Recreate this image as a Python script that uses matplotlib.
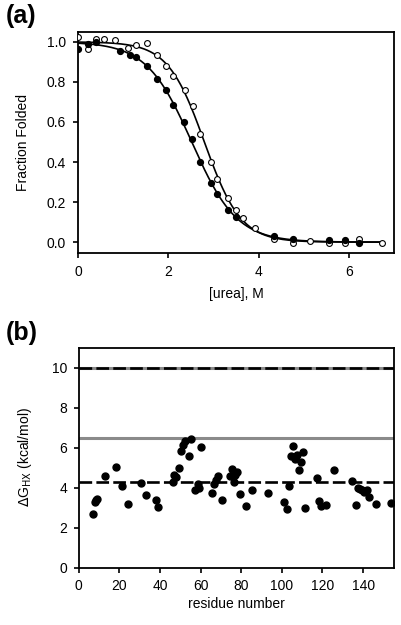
import matplotlib
matplotlib.use("Agg")
import matplotlib.pyplot as plt
import numpy as np

plt.rcParams['font.family'] = ['Liberation Sans', 'DejaVu Sans']
plt.rcParams['font.size'] = 10

# (a) urea denaturation, fraction folded
urea_filled = [0.0, 0.22, 0.40, 0.93, 1.16, 1.28, 1.53, 1.75, 1.95, 2.11, 2.35, 2.53,
               2.71, 2.94, 3.09, 3.32, 3.50, 4.35, 4.76, 5.55, 5.92, 6.22]
frac_filled = [0.965, 0.99, 1.0, 0.955, 0.937, 0.925, 0.879, 0.817, 0.759, 0.687, 0.601, 0.517,
               0.399, 0.295, 0.238, 0.158, 0.123, 0.032, 0.017, 0.010, 0.010, -0.003]
urea_open = [0.0, 0.22, 0.40, 0.57, 0.82, 1.10, 1.29, 1.53, 1.75, 1.95, 2.10, 2.36, 2.55,
             2.71, 2.95, 3.08, 3.32, 3.51, 3.65, 3.93, 4.35, 4.76, 5.14, 5.55, 5.92, 6.22, 6.73]
frac_open = [1.025, 0.963, 1.013, 1.013, 1.01, 0.97, 0.985, 0.992, 0.933, 0.879, 0.829, 0.759,
             0.679, 0.542, 0.399, 0.316, 0.221, 0.158, 0.12, 0.07, 0.015, -0.002, 0.007,
             -0.005, -0.005, 0.015, -0.002]

# (b) HX stability per residue
residue = [6.9, 7.9, 8.6, 9.2, 13.0, 18.1, 21.1, 24.2, 30.8, 33.3, 38.1, 39.2,
           46.2, 47.0, 48.0, 49.1, 50.1, 51.3, 52.4, 54.4, 55.5, 57.3, 58.5, 59.3, 60.3,
           65.4, 66.6, 67.7, 68.4, 70.4, 74.4, 75.5, 76.3, 77.0, 77.8, 79.4, 82.4, 85.4,
           93.4, 101.2, 102.5, 103.3, 104.3, 105.3, 106.3, 107.4, 108.4, 109.4, 110.4, 111.4,
           117.5, 118.3, 119.5, 121.8, 125.8, 134.5, 136.6, 137.3, 138.4, 139.7, 140.6,
           141.7, 142.7, 146.5, 153.7]
dG_hx = [2.7, 3.28, 3.4, 3.45, 4.6, 5.05, 4.08, 3.2, 4.25, 3.62, 3.37, 3.03,
         4.28, 4.65, 4.53, 5.0, 5.82, 6.15, 6.32, 5.57, 6.45, 3.87, 4.2, 3.98, 6.03,
         3.75, 4.2, 4.4, 4.58, 3.37, 4.57, 4.92, 4.28, 4.65, 4.78, 3.67, 3.07, 3.87,
         3.73, 3.28, 2.95, 4.07, 5.57, 6.07, 5.45, 5.62, 4.87, 5.28, 5.77, 2.98,
         4.5, 3.33, 3.08, 3.15, 4.87, 4.32, 3.12, 3.98, 3.95, 3.87, 3.78,
         3.87, 3.53, 3.17, 3.23]
gray_levels = [9.96, 6.5]
dashed_levels = [10.0, 4.3]


def fit_two_state(x, y):
    # coarse least-squares fit of f = 1/(1+exp(k(x-Cm)))
    x = np.asarray(x)
    y = np.asarray(y)
    best = None
    for cm in np.linspace(2.0, 3.5, 151):
        for k in np.linspace(1.0, 4.0, 121):
            err = np.sum((1 / (1 + np.exp(k * (x - cm))) - y) ** 2)
            if best is None or err < best[0]:
                best = (err, cm, k)
    return best[1], best[2]


fig = plt.figure(figsize=(4.02, 6.25), dpi=100)
ax1 = fig.add_axes([0.194, 0.595, 0.786, 0.354])
ax2 = fig.add_axes([0.196, 0.092, 0.783, 0.352])

xs = np.linspace(0, 6.75, 300)
for ux, fy in [(urea_filled, frac_filled), (urea_open, frac_open)]:
    cm, k = fit_two_state(ux, fy)
    ax1.plot(xs, 1 / (1 + np.exp(k * (xs - cm))), color="black", lw=1.2, zorder=2)

ax1.plot(urea_open, frac_open, "o", ms=4.2, mfc="white", mec="black", mew=0.8, zorder=3)
ax1.plot(urea_filled, frac_filled, "o", ms=4.2, mfc="black", mec="black", zorder=4)

ax1.set_xlim(0, 7)
ax1.set_ylim(-0.055, 1.05)
ax1.set_xticks([0, 2, 4, 6])
ax1.set_yticks([0, 0.2, 0.4, 0.6, 0.8, 1.0])
ax1.set_yticklabels([f"{v:.1f}" for v in [0, 0.2, 0.4, 0.6, 0.8, 1.0]])
ax1.set_xlabel("[urea], M", labelpad=6)
ax1.set_ylabel("Fraction Folded", labelpad=12)

for lv in gray_levels:
    ax2.axhline(lv, color="#8a8a8a", lw=2.2, zorder=1)
for lv in dashed_levels:
    ax2.axhline(lv, color="black", lw=1.9, dashes=(4.8, 1.6), zorder=2)
ax2.plot(residue, dG_hx, "o", ms=5, color="black", zorder=3)

ax2.set_xlim(0, 155)
ax2.set_ylim(0, 11)
ax2.set_xticks(np.arange(0, 141, 20))
ax2.set_yticks([0, 2, 4, 6, 8, 10])
ax2.set_xlabel("residue number", labelpad=3)
ax2.set_ylabel(r"$\Delta$G$_{\mathrm{HX}}$ (kcal/mol)", labelpad=13)

for ax in (ax1, ax2):
    for s in ax.spines.values():
        s.set_linewidth(1.3)
    ax.tick_params(direction="out", length=3.5, width=1.2, labelsize=10, pad=5)

fig.text(0.015, 0.975, "(a)", fontsize=18, fontweight="bold", va="center")
fig.text(0.015, 0.467, "(b)", fontsize=18, fontweight="bold", va="center")

fig.savefig("out.png", dpi=100)
